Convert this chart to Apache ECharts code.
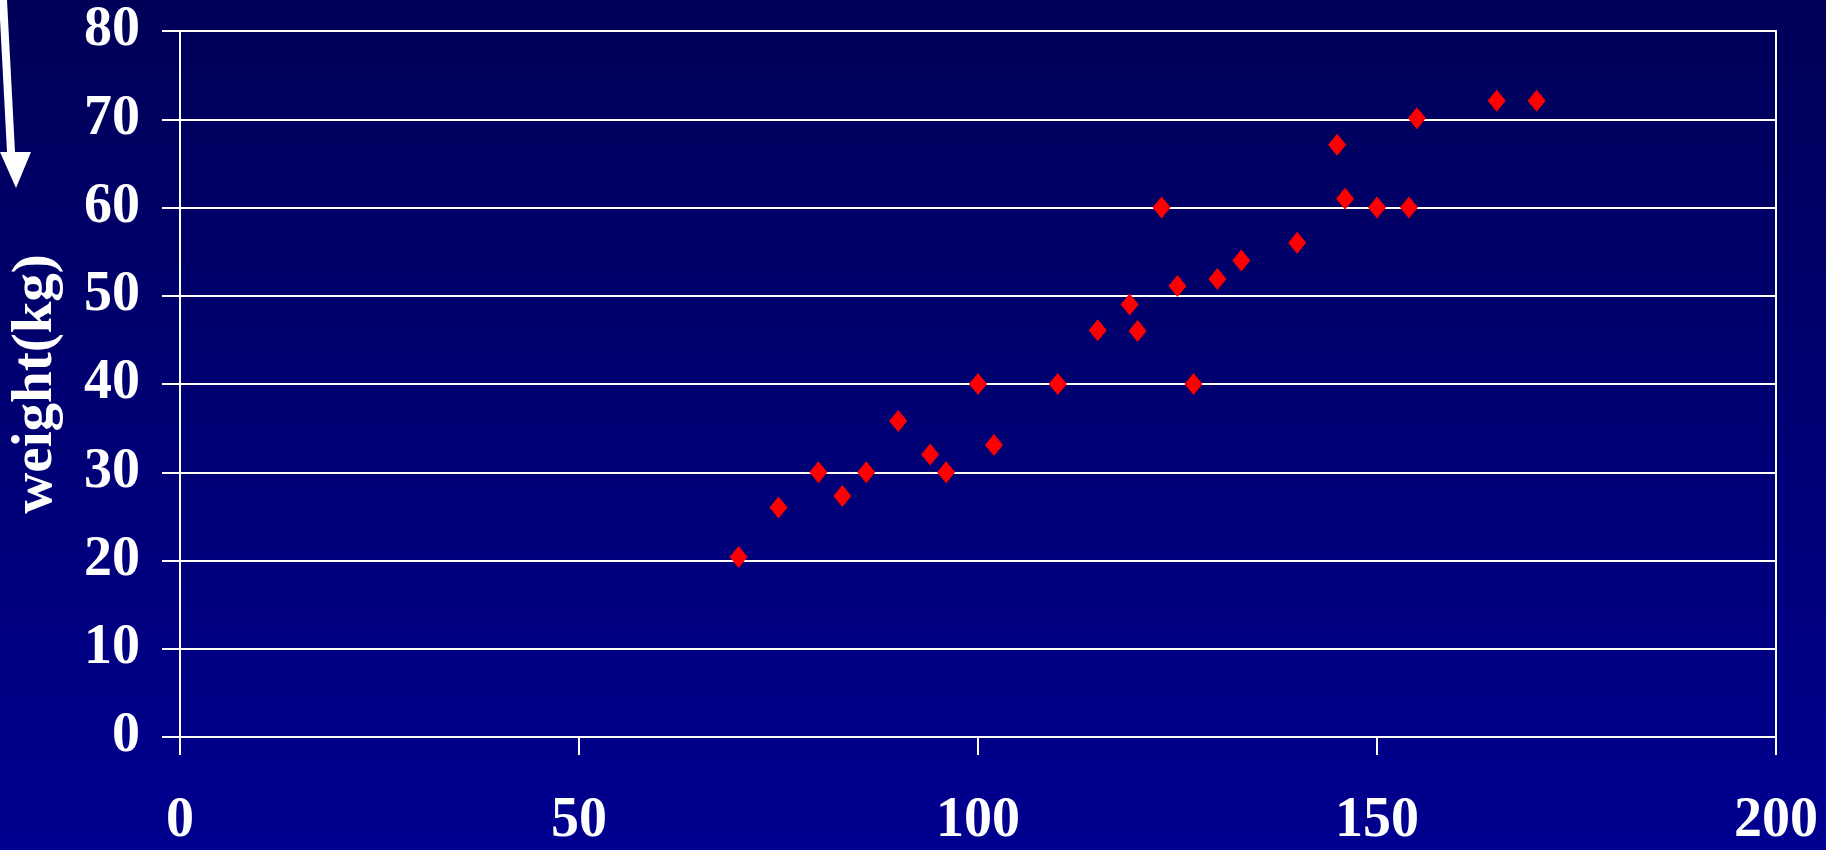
<!DOCTYPE html>
<html>
<head>
<meta charset="utf-8">
<script src="https://cdn.jsdelivr.net/npm/echarts@6/dist/echarts.min.js"></script>
<style>
  html, body { margin: 0; padding: 0; }
  #chart { width: 1826px; height: 850px; }
</style>
</head>
<body>
<div id="chart"></div>
<script>
// height (x) and weight (y)
var heights = [70, 75, 80, 83, 86, 90, 94, 96, 100, 102, 110, 115, 119, 120, 123, 125, 127, 130, 133, 140, 145, 146, 150, 154, 155, 165, 170];
var weights = [20.4, 26, 30, 27.3, 30, 35.8, 32, 30, 40, 33.1, 40, 46.1, 49, 46, 60, 51.1, 40, 51.9, 54, 56, 67.1, 61, 60, 60, 70.1, 72.1, 72.1];
var yName = 'weight(kg)';

var points = [];
for (var i = 0; i < heights.length; i++) {
    points.push([heights[i], weights[i]]);
}

var chart = echarts.init(document.getElementById('chart'));

var labelFont = {
    color: '#fff',
    fontFamily: '"Liberation Serif", "Times New Roman", serif',
    fontWeight: 'bold',
    fontSize: 56
};

var option = {
    animation: false,
    backgroundColor: {
        type: 'linear', x: 0, y: 0, x2: 0, y2: 1,
        colorStops: [
            { offset: 0, color: '#000058' },
            { offset: 1, color: '#00008f' }
        ]
    },
    grid: {
        left: 178, right: 50, top: 31, bottom: 112,
        show: true,
        borderColor: '#fff',
        borderWidth: 2
    },
    xAxis: {
        type: 'value',
        min: 0, max: 200, interval: 50,
        axisLine: { show: true, lineStyle: { color: '#fff', width: 2 } },
        axisTick: { show: true, inside: false, length: 18, lineStyle: { color: '#fff', width: 2 } },
        splitLine: { show: false },
        axisLabel: Object.assign({ margin: 57 }, labelFont)
    },
    yAxis: {
        type: 'value',
        min: 0, max: 80, interval: 10,
        name: yName,
        nameLocation: 'middle',
        nameGap: 115,
        nameTextStyle: {
            color: '#fff',
            fontFamily: '"Liberation Serif", "Times New Roman", serif',
            fontWeight: 'bold',
            fontSize: 57
        },
        axisLine: { show: true, lineStyle: { color: '#fff', width: 2 } },
        axisTick: { show: true, inside: false, length: 18, lineStyle: { color: '#fff', width: 2 } },
        splitLine: { show: true, lineStyle: { color: '#fff', width: 2 } },
        axisLabel: Object.assign({ margin: 40 }, labelFont)
    },
    graphic: [
        {
            type: 'polygon',
            shape: { points: [[-1, 0], [7, 0], [15, 152], [7, 152]] },
            style: { fill: '#fff' }
        },
        {
            type: 'polygon',
            shape: { points: [[0, 152], [31, 152], [16, 188]] },
            style: { fill: '#fff' }
        }
    ],
    series: [
        {
            type: 'scatter',
            data: points,
            symbol: 'diamond',
            symbolSize: [18, 22],
            itemStyle: { color: '#ff0000', opacity: 1 }
        }
    ]
};

chart.setOption(option);
</script>
</body>
</html>
